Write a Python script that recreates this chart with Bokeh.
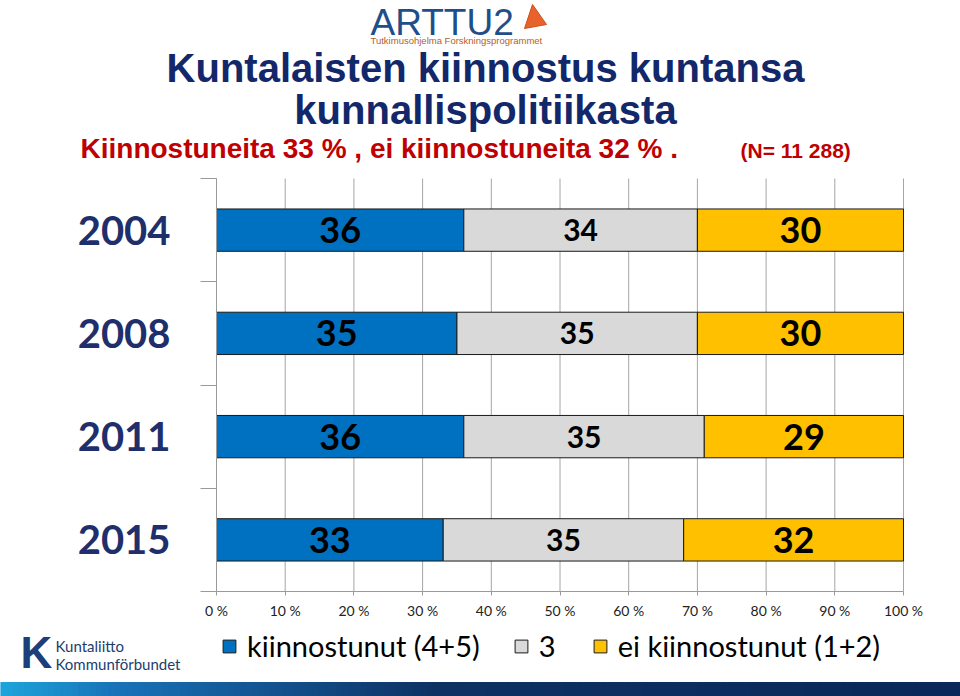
from bokeh.plotting import figure
from bokeh.models import Range1d, FixedTicker, Label, Legend, LegendItem
from bokeh.embed import file_html
from bokeh.resources import INLINE
from bokeh.core.properties import value
import numpy as np

# ---------------- data ----------------
years = ["2004", "2008", "2011", "2015"]
interested = [36, 35, 36, 33]        # kiinnostunut (4+5)
neutral = [34, 35, 35, 35]           # 3
not_interested = [30, 30, 29, 32]    # ei kiinnostunut (1+2)
series_names = ["kiinnostunut (4+5)", "3", "ei kiinnostunut (1+2)"]
series_colors = ["#0070C0", "#D9D9D9", "#FFC000"]
x_ticks = [0, 10, 20, 30, 40, 50, 60, 70, 80, 90, 100]
x_tick_labels = ["0 %", "10 %", "20 %", "30 %", "40 %", "50 %", "60 %",
                 "70 %", "80 %", "90 %", "100 %"]

title_line1 = "Kuntalaisten kiinnostus kuntansa"
title_line2 = "kunnallispolitiikasta"
subtitle = "Kiinnostuneita 33 % , ei kiinnostuneita 32 % ."
subtitle_n = "(N= 11 288)"

# ---------------- layout (pixels) ----------------
W, H = 960, 696
CH_LEFT, CH_RIGHT, CH_TOP, CH_BOTTOM = 216, 903, 178, 591
n_cat = len(years)
px_x = (CH_RIGHT - CH_LEFT) / 100.0
px_y = (CH_BOTTOM - CH_TOP) / float(n_cat)
x_start = 0 - CH_LEFT / px_x
x_end = 100 + (W - CH_RIGHT) / px_x
y_top = -0.5 - CH_TOP / px_y
y_bot = (n_cat - 0.5) + (H - CH_BOTTOM) / px_y


def dx(X):
    return x_start + np.asarray(X) / px_x


def dy(Y):
    return y_top + np.asarray(Y) / px_y


p = figure(width=W, height=H, output_backend="svg", toolbar_location=None,
           x_range=Range1d(x_start, x_end), y_range=Range1d(y_bot, y_top),
           min_border=0, min_border_left=0, min_border_right=0,
           min_border_top=0, min_border_bottom=0,
           outline_line_color=None, background_fill_color="white",
           border_fill_color="white")
p.xgrid.grid_line_color = None
p.ygrid.grid_line_color = None

ys = np.arange(n_cat)
cat_edges = np.arange(n_cat + 1) - 0.5

# vertical gridlines limited to the chart area
p.segment(x0=x_ticks, y0=cat_edges[0], x1=x_ticks, y1=cat_edges[-1],
          line_color="#a6a6a6", line_width=1)

seg = np.array([interested, neutral, not_interested], dtype=float)
rights = np.cumsum(seg, axis=0)
lefts = rights - seg

renderers = []
for i in range(3):
    r = p.hbar(y=ys, left=lefts[i], right=rights[i], height=0.41,
               fill_color=series_colors[i], line_color="#1a1a1a", line_width=1)
    renderers.append(r)

centers = (lefts + rights) / 2.0
label_sizes = ["36px", "30px", "36px"]
for i in range(3):
    p.text(x=centers[i], y=ys, text=[str(int(v)) for v in seg[i]],
           text_align="center", text_baseline="middle",
           text_font=value("Lato"), text_font_style="bold",
           text_font_size=label_sizes[i], text_color="black")

# x axis (drawn at the bottom edge of the chart area)
xa = p.xaxis[0]
xa.fixed_location = float(cat_edges[-1])
xa.bounds = (0, 100)
xa.ticker = FixedTicker(ticks=x_ticks)
xa.major_label_overrides = {t: l for t, l in zip(x_ticks, x_tick_labels)}
xa.axis_line_color = "#9a9a9a"
xa.major_tick_line_color = "#9a9a9a"
xa.major_tick_in = 0
xa.major_tick_out = 4
xa.minor_tick_line_color = None
xa.major_label_standoff = 6
xa.major_label_text_font = "Lato"
xa.major_label_text_font_size = "14px"
xa.major_label_text_color = "#222222"

# y axis (drawn at 0 %)
ya = p.yaxis[0]
ya.fixed_location = 0
ya.bounds = (float(cat_edges[0]), float(cat_edges[-1]))
ya.ticker = FixedTicker(ticks=list(range(n_cat)), minor_ticks=list(cat_edges))
ya.major_label_overrides = {i: y for i, y in enumerate(years)}
ya.axis_line_color = "#9a9a9a"
ya.major_tick_line_color = None
ya.major_tick_in = 0
ya.major_tick_out = 0
ya.minor_tick_line_color = "#9a9a9a"
ya.minor_tick_in = 0
ya.minor_tick_out = 16
ya.major_label_standoff = 30
ya.major_label_text_font = "Lato"
ya.major_label_text_font_style = "bold"
ya.major_label_text_font_size = "40px"
ya.major_label_text_color = "#1f2f6b"

# legend
legend = Legend(items=[LegendItem(label=n, renderers=[r])
                       for n, r in zip(series_names, renderers)],
                orientation="horizontal", location=(221, H - 663),
                label_text_font="Lato", label_text_font_size="29px",
                label_text_color="black", glyph_width=16, glyph_height=16,
                label_standoff=10, spacing=33, padding=0, margin=0,
                border_line_color=None, background_fill_alpha=0)
p.add_layout(legend)


def lab(text, X, Y, size, color, font="Liberation Sans", style="normal", align="left"):
    p.add_layout(Label(x=float(dx(X)), y=float(dy(Y)), text=text, text_font=font,
                       text_font_size=size, text_color=color, text_font_style=style,
                       text_align=align, text_baseline="middle"))


lab(title_line1, 485, 67, "40px", "#12286a", style="bold", align="center")
lab(title_line2, 485, 109, "40px", "#12286a", style="bold", align="center")
lab(subtitle, 80, 148, "28px", "#c00000", style="bold")
lab(subtitle_n, 740, 150, "21px", "#c00000", style="bold")

# logos (text plus simple decorative shapes)
lab("ARTTU2", 370, 22, "37px", "#1f4e8a")
lab("Tutkimusohjelma Forskningsprogrammet", 370, 40, "9.5px", "#b5602a")
p.patch(x=dx([524, 546, 532]), y=dy([28, 24, 4]), fill_color="#e8622c",
        line_color="#c9501f", line_width=1)
lab("K", 20, 652, "44px", "#1b3f7a", style="bold")
lab("Kuntaliitto", 55, 645, "15px", "#1d3c6e", font="Lato")
lab("Kommunförbundet", 55, 663, "15px", "#1d3c6e", font="Lato")

# bottom banner (decoration)
nb = 160
edges = np.linspace(0, W, nb + 1)
mid = (edges[:-1] + edges[1:]) / 2 / W
rr = np.interp(mid, [0, 0.12, 0.45, 1], [30, 24, 14, 10])
gg = np.interp(mid, [0, 0.12, 0.45, 1], [165, 115, 50, 40])
bb = np.interp(mid, [0, 0.12, 0.45, 1], [220, 185, 100, 90])
cols = ["#%02x%02x%02x" % (int(a), int(c), int(d)) for a, c, d in zip(rr, gg, bb)]
p.quad(left=dx(edges[:-1]), right=dx(edges[1:]), bottom=float(dy(H)),
       top=float(dy(682)), fill_color=cols, line_color=cols)

open("out.html", "w").write(file_html(p, INLINE))
